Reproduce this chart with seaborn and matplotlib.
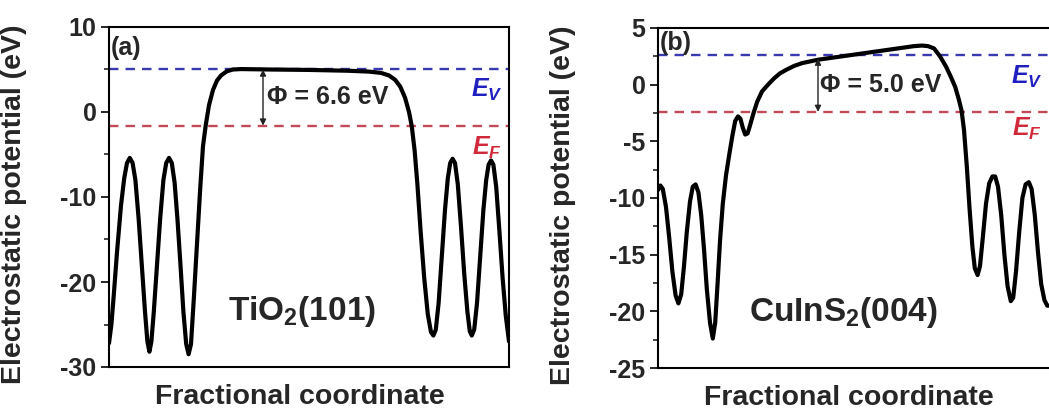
import matplotlib
matplotlib.use("Agg")
import matplotlib.pyplot as plt
from matplotlib.ticker import MultipleLocator
import seaborn as sns
import pandas as pd

# ---- Panel (a): TiO2(101) ----
xa = [0.000, 0.006, 0.012, 0.020, 0.030, 0.038, 0.045, 0.052, 0.059, 0.066,
      0.074, 0.082, 0.090, 0.096, 0.101, 0.106, 0.112, 0.120, 0.128, 0.136,
      0.143, 0.150, 0.157, 0.164, 0.171, 0.178, 0.186, 0.193, 0.199, 0.205,
      0.212, 0.220, 0.228, 0.235, 0.242, 0.250, 0.260, 0.270, 0.280, 0.295,
      0.310, 0.330, 0.400, 0.500, 0.600, 0.650, 0.680, 0.700, 0.715, 0.728,
      0.740, 0.750, 0.757, 0.764, 0.771, 0.779, 0.788, 0.797, 0.805, 0.811,
      0.817, 0.824, 0.832, 0.840, 0.847, 0.853, 0.859, 0.865, 0.872, 0.880,
      0.888, 0.896, 0.902, 0.907, 0.913, 0.920, 0.928, 0.936, 0.943, 0.949,
      0.955, 0.961, 0.968, 0.976, 0.984, 0.992, 1.000]
ya = [-27.2, -25.0, -21.5, -16.5, -11.0, -7.8, -6.0, -5.4, -6.0, -8.0,
      -12.5, -18.0, -23.5, -27.0, -28.2, -27.0, -23.5, -18.0, -12.5, -8.0,
      -6.0, -5.4, -6.0, -8.3, -12.5, -17.5, -23.5, -27.3, -28.5, -27.3,
      -22.0, -15.5, -9.0, -4.0, -1.5, 0.8, 2.6, 3.7, 4.3, 4.8,
      5.0, 5.05, 5.0, 4.95, 4.85, 4.75, 4.6, 4.3, 3.8, 3.0,
      1.7, 0.0, -1.7, -4.5, -8.5, -14.0, -19.5, -23.8, -25.9, -26.3,
      -25.6, -22.5, -17.0, -11.5, -7.8, -6.0, -5.5, -6.0, -8.5, -13.5,
      -19.0, -23.5, -25.8, -26.3, -25.6, -22.5, -17.0, -11.5, -8.0, -6.2,
      -5.7, -6.2, -8.8, -14.0, -19.5, -24.0, -27.0]
ev_a, ef_a = 5.0, -1.6

# ---- Panel (b): CuInS2(004) ----
xb = [0.000, 0.006, 0.012, 0.020, 0.028, 0.036, 0.044, 0.051, 0.058, 0.065,
      0.072, 0.080, 0.087, 0.094, 0.101, 0.108, 0.115, 0.122, 0.130, 0.137,
      0.143, 0.149, 0.155, 0.162, 0.170, 0.178, 0.186, 0.193, 0.200, 0.206,
      0.212, 0.218, 0.224, 0.230, 0.238, 0.248, 0.260, 0.275, 0.290, 0.305,
      0.320, 0.340, 0.360, 0.380, 0.400, 0.450, 0.500, 0.550, 0.600, 0.640,
      0.660, 0.675, 0.690, 0.705, 0.720, 0.732, 0.743, 0.752, 0.759, 0.765,
      0.772, 0.779, 0.786, 0.792, 0.799, 0.805, 0.812, 0.820, 0.828, 0.836,
      0.843, 0.850, 0.858, 0.866, 0.874, 0.882, 0.888, 0.895, 0.903, 0.911,
      0.919, 0.927, 0.934, 0.942, 0.950, 0.958, 0.966, 0.973, 0.980, 0.990,
      1.000]
yb = [-9.3, -8.9, -9.2, -10.8, -13.5, -16.5, -18.6, -19.3, -18.5, -16.0,
      -13.0, -10.3, -9.0, -8.8, -9.5, -11.5, -14.5, -18.0, -21.0, -22.4,
      -21.0, -17.5, -13.8, -10.5, -8.0, -6.2, -4.5, -3.2, -2.8, -3.0,
      -3.8, -4.4, -4.3, -3.6, -2.6, -1.5, -0.6, 0.0, 0.55, 1.0,
      1.3, 1.65, 1.9, 2.05, 2.2, 2.45, 2.7, 2.95, 3.2, 3.4,
      3.45, 3.4, 3.2, 2.5, 1.6, 0.7, -0.2, -1.3, -2.3, -4.0,
      -7.2, -11.0, -14.3, -16.2, -16.8, -16.0, -13.5, -10.5, -8.7, -8.1,
      -8.1, -9.0, -11.5, -15.0, -17.8, -19.1, -18.8, -16.5, -13.0, -10.0,
      -8.8, -8.6, -9.2, -11.5, -14.8, -17.6, -19.0, -19.5, -19.5, -17.0,
      -13.0]
ev_b, ef_b = 2.6, -2.4

sns.set_style("ticks")
plt.rcParams['font.family'] = ['Liberation Sans', 'DejaVu Sans']
plt.rcParams['font.weight'] = 'bold'
plt.rcParams['axes.unicode_minus'] = False
plt.rcParams['mathtext.fontset'] = 'custom'
plt.rcParams['mathtext.rm'] = 'Liberation Sans:bold'
plt.rcParams['mathtext.it'] = 'Liberation Sans:italic:bold'
plt.rcParams['mathtext.bf'] = 'Liberation Sans:bold'

fig = plt.figure(figsize=(10.49, 4.09), dpi=100)
ax_a = fig.add_axes([109/1049, 42/409, 400/1049, 340/409])
ax_b = fig.add_axes([658/1049, 41/409, 400/1049, 340/409])

blue = '#3a3ab0'
red = '#c24a58'

panels = [
    (ax_a, xa, ya, ev_a, ef_a, (-30, 10), 10, 5, '(a)', 'TiO$_2$(101)',
     'Φ = 6.6 eV', 0.385, ev_a, 0.394, 1.8, 0.945, 2.6, -4.2, 7.5, (0.482, -23.5)),
    (ax_b, xb, yb, ev_b, ef_b, (-25, 5), 5, 2.5, '(b)', 'CuInS$_2$(004)',
     'Φ = 5.0 eV', 0.400, 2.3, 0.405, 0.0, 0.9225, 0.7, -3.9, 3.7, (0.463, -20.1)),
]

for (ax, x, y, ev, ef, ylim, major, minor, tag, name, phi, arx, artop, phx, phy,
     ex, evy, efy, tagy, namepos) in panels:
    df = pd.DataFrame({'x': x, 'y': y})
    sns.lineplot(data=df, x='x', y='y', ax=ax, color='black', linewidth=3.0,
                 sort=False, estimator=None)
    ax.axhline(ev, color=blue, linestyle=(0, (4, 3)), linewidth=1.7, zorder=1)
    ax.axhline(ef, color=red, linestyle=(0, (4, 3)), linewidth=1.7, zorder=1)
    ax.set_xlim(0, 1)
    ax.set_ylim(*ylim)
    ax.yaxis.set_major_locator(MultipleLocator(major))
    ax.yaxis.set_minor_locator(MultipleLocator(minor))
    ax.set_xticks([])
    ax.tick_params(axis='y', which='major', direction='out', length=6, width=1.4,
                   labelsize=18, pad=3)
    ax.tick_params(axis='y', which='minor', direction='out', length=3.5, width=1.2)
    for lbl in ax.get_yticklabels():
        lbl.set_fontweight('bold')
    for s in ax.spines.values():
        s.set_linewidth(1.5)
        s.set_color('black')
    ax.set_xlabel('Fractional coordinate', fontsize=20.5, fontweight='bold')
    ax.set_ylabel('Electrostatic potential (eV)', fontsize=20.5, fontweight='bold')
    ax.xaxis.set_label_coords(0.478, -0.05)
    ax.yaxis.set_label_coords(-0.205, 0.48)
    ax.annotate('', xy=(arx, ef), xytext=(arx, artop),
                arrowprops=dict(arrowstyle='<|-|>', color='#222222', lw=1.0,
                                mutation_scale=9, shrinkA=0, shrinkB=0))
    ax.text(phx, phy, phi, fontsize=18, fontweight='bold', va='center', ha='left')
    ax.text(ex, evy, '$E_V$', fontsize=18, color='#2020c0', ha='center', va='center')
    ax.text(ex, efy, '$E_F$', fontsize=18, color='#d02a3a', ha='center', va='center')
    ax.text(0.005, tagy, tag, fontsize=18, fontweight='bold', va='center', ha='left')
    ax.text(namepos[0], namepos[1], name, fontsize=24, fontweight='bold',
            va='center', ha='center')

fig.savefig('out.png', dpi=100)
